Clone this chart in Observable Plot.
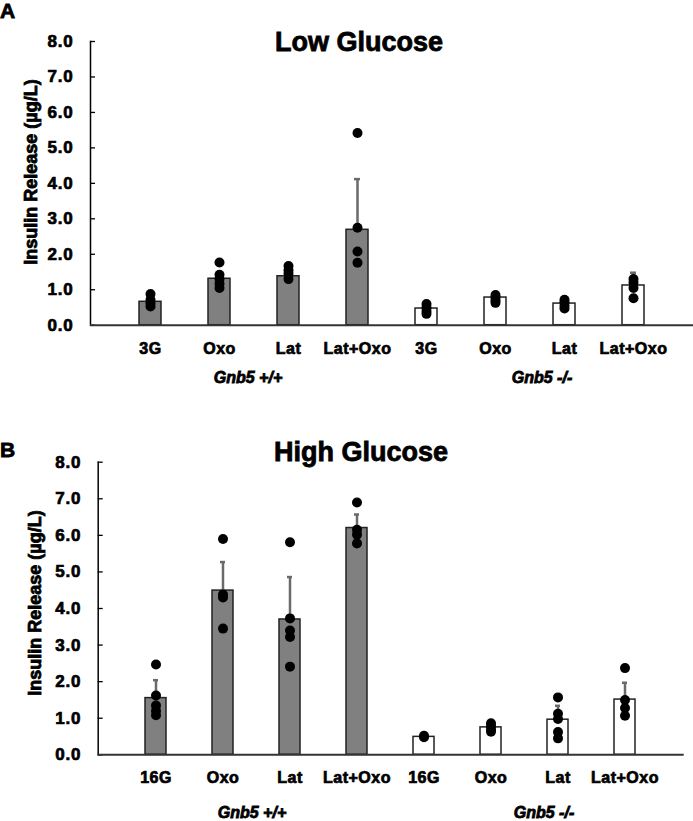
<!DOCTYPE html>
<html><head><meta charset="utf-8">
<script src="https://cdn.jsdelivr.net/npm/d3@7"></script>
<script src="https://cdn.jsdelivr.net/npm/@observablehq/plot@0.6"></script>
<style>
body{margin:0;background:#fff;font-family:"Liberation Sans",Arial,sans-serif;}
#root{position:relative;width:693px;height:821px;overflow:hidden;background:#fff;}
.t{position:absolute;font-weight:bold;line-height:1;white-space:nowrap;color:#000;-webkit-text-stroke:0.8px #000;}
.panel{position:absolute;left:0;}
svg text{paint-order:stroke;stroke:#000;stroke-width:0.7px;}
g[aria-label="y-axis tick label"] text{letter-spacing:0.8px;}
g[aria-label="x-axis tick label"] text{letter-spacing:0.5px;}
</style></head><body><div id="root"></div>
<script>
// ---- Data ----
const yTicks = [0, 1, 2, 3, 4, 5, 6, 7, 8];

const labelsA = ["3G", "Oxo", "Lat", "Lat+Oxo", "3G", "Oxo", "Lat", "Lat+Oxo"];
const meansA = [0.66, 1.31, 1.38, 2.69, 0.47, 0.78, 0.61, 1.12];
const errTopA = [0.78, 1.45, 1.50, 4.12, 0.55, 0.86, 0.68, 1.48];
const pointsA = [
  [0.88, 0.72, 0.62, 0.53],
  [1.77, 1.42, 1.30, 1.17, 1.05],
  [1.67, 1.55, 1.45, 1.30],
  [5.42, 2.75, 2.08, 1.76],
  [0.60, 0.50, 0.40, 0.32],
  [0.85, 0.78, 0.70, 0.63],
  [0.72, 0.65, 0.55, 0.47],
  [1.30, 1.20, 1.05, 0.76]
];

const labelsB = ["16G", "Oxo", "Lat", "Lat+Oxo", "16G", "Oxo", "Lat", "Lat+Oxo"];
const meansB = [1.55, 4.49, 3.70, 6.20, 0.49, 0.75, 0.96, 1.51];
const errTopB = [2.04, 5.27, 4.86, 6.57, 0.52, 0.84, 1.34, 1.97];
const pointsB = [
  [2.47, 1.62, 1.35, 1.20, 1.08],
  [5.90, 4.38, 4.30, 3.45],
  [5.81, 3.73, 3.40, 3.22, 2.41],
  [6.90, 6.15, 6.02, 5.78],
  [0.52, 0.48],
  [0.86, 0.78, 0.70, 0.63],
  [1.57, 1.12, 0.98, 0.62, 0.45],
  [2.37, 1.50, 1.28, 1.07]
];

const groups = ["Gnb5 +/+", "Gnb5 -/-"];

// ---- Drawing ----
const FONT = '"Liberation Sans", Arial, sans-serif';
const root = document.getElementById("root");

function addText(txt, left, top, size, extra = {}) {
  const d = document.createElement("div");
  d.className = "t";
  d.textContent = txt;
  d.style.left = left + "px";
  d.style.top = top + "px";
  d.style.fontSize = size + "px";
  Object.assign(d.style, extra);
  root.appendChild(d);
  return d;
}

function panel({top, height, mt, mb, ml, mr, labels, means, errs, points}) {
  const idx = labels.map((_, i) => i);
  const bars = idx.map(i => ({i, mean: means[i], err: errs[i], fill: i < 4 ? "#808080" : "#ffffff"}));
  const dots = idx.flatMap(i => points[i].map(v => ({i, v})));
  const fw = 693 - ml - mr;
  const plot = Plot.plot({
    width: 693, height,
    marginTop: mt, marginBottom: mb, marginLeft: ml, marginRight: mr,
    x: {type: "band", domain: idx, padding: 0.68, align: 0.5, axis: null},
    y: {domain: [0, 8], axis: null},
    style: {fontFamily: FONT, fontWeight: "bold", color: "#000", background: "transparent", overflow: "visible"},
    marks: [
      Plot.axisX({tickSize: 0, tickPadding: 17, tickFormat: i => labels[i], fontSize: 16, fontWeight: "bold", label: null}),
      Plot.axisY({ticks: yTicks, tickSize: 0, tickPadding: 17, tickFormat: d3.format(".1f"), fontSize: 17, fontWeight: "bold", label: null}),
      Plot.tickY(yTicks, {y: d => d, insetRight: fw - 5, stroke: "#000", strokeWidth: 1.3}),
      Plot.frame({anchor: "left", stroke: "#000", strokeWidth: 1.5}),
      Plot.barY(bars, {x: "i", y: "mean", fill: "fill", stroke: "#222", strokeWidth: 1.5}),
      Plot.ruleY([0], {stroke: "#333", strokeWidth: 2}),
      Plot.ruleX(bars, {x: "i", y1: "mean", y2: "err", stroke: "#6a6a6a", strokeWidth: 2.5}),
      Plot.tickY(bars, {x: "i", y: "err", stroke: "#6a6a6a", strokeWidth: 2.5, inset: 8}),
      Plot.dot(dots, {x: "i", y: "v", r: 5, fill: "#000"})
    ]
  });
  const wrap = document.createElement("div");
  wrap.className = "panel";
  wrap.style.top = top + "px";
  wrap.appendChild(plot);
  root.appendChild(wrap);
}

panel({top: 0, height: 400, mt: 41, mb: 75.3, ml: 90, mr: 0,
  labels: labelsA, means: meansA, errs: errTopA, points: pointsA});
panel({top: 400, height: 421, mt: 61.7, mb: 66.7, ml: 97.7, mr: 9.3,
  labels: labelsB, means: meansB, errs: errTopB, points: pointsB});

// Panel letters & titles
addText("A", 0, 0, 21);
addText("B", 0, 439, 21);
addText("Low Glucose", 359, 29, 27, {transform: "translateX(-50%)"});
addText("High Glucose", 361, 439, 27, {transform: "translateX(-50%)"});

// Y-axis labels
const yl = "Insulin Release (µg/L)";
addText(yl, 31, 172, 18, {transform: "translate(-50%,-50%) rotate(-90deg)"});
addText(yl, 35, 603, 18, {transform: "translate(-50%,-50%) rotate(-90deg)"});

// Group labels
const gStyle = {transform: "translateX(-50%)", fontStyle: "italic"};
addText(groups[0], 248, 370, 16, gStyle);
addText(groups[1], 542, 370, 16, gStyle);
addText(groups[0], 252, 805, 16, gStyle);
addText(groups[1], 544, 805, 16, gStyle);
</script></body></html>
